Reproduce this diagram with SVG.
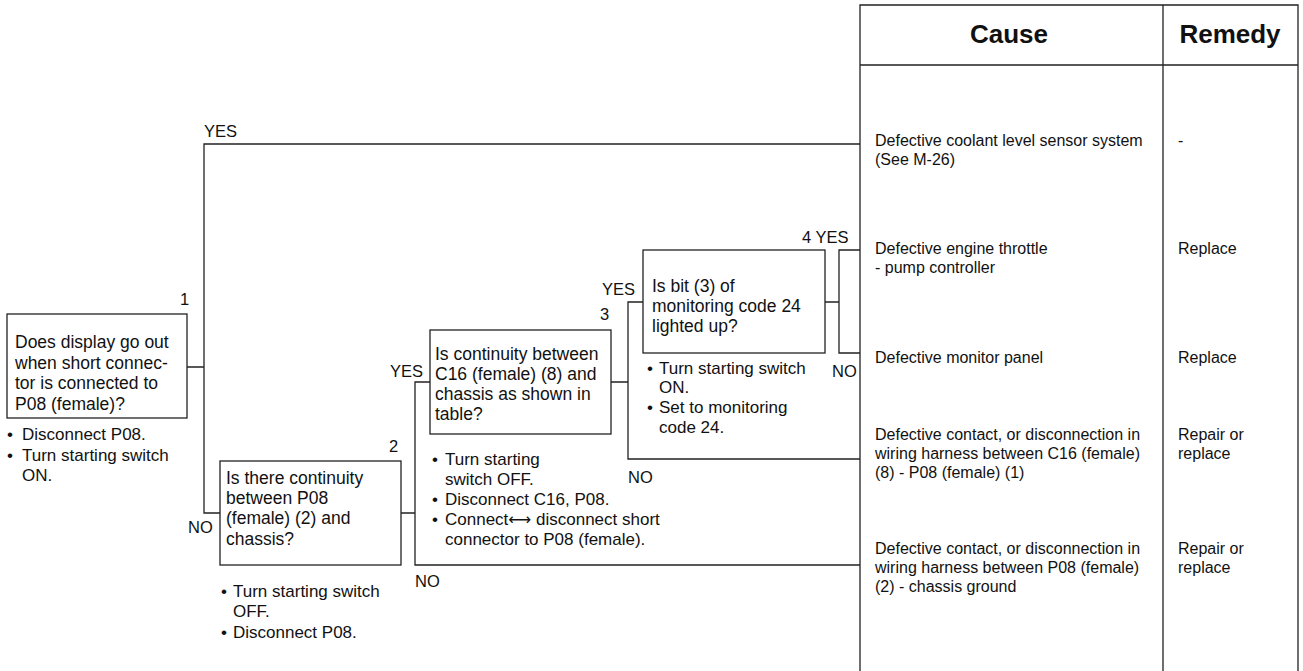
<svg xmlns="http://www.w3.org/2000/svg" width="1303" height="671" viewBox="0 0 1303 671">
<style>
.ln{stroke:#222;stroke-width:1.3;fill:none}
.bx{stroke:#222;stroke-width:1.3;fill:#fff}
text{font-family:"Liberation Sans",Arial,sans-serif;fill:#111}
.q{font-size:17.5px}
.b{font-size:17px}
.lb{font-size:16.5px}
.c{font-size:16px}
.h{font-size:26px;font-weight:bold}
</style>
<rect width="1303" height="671" fill="#fff"/>
<g id="table">
<path class="ln" d="M860 671V5H1298V671M1163 5V671M860 65H1298"/>
<text class="h" x="1009" y="43" text-anchor="middle">Cause</text>
<text class="h" x="1230" y="43" text-anchor="middle">Remedy</text>
</g>
<g id="connectors">
<path class="ln" d="M860 144H204V513H220M187 367H204"/>
<path class="ln" d="M401 513H415M430 382H415V565H860"/>
<path class="ln" d="M611 382H628M643 302H628V459H860"/>
<path class="ln" d="M825 302H839M860 250H839V353H860"/>
<text class="lb" x="204" y="137">YES</text>
<text class="lb" x="188" y="533">NO</text>
<text class="lb" x="390" y="377">YES</text>
<text class="lb" x="415" y="587">NO</text>
<text class="lb" x="602" y="295">YES</text>
<text class="lb" x="628" y="483">NO</text>
<text class="lb" x="802" y="243">4 YES</text>
<text class="lb" x="832" y="377">NO</text>
</g>
<g id="node1">
<rect class="bx" x="7" y="314" width="180" height="104"/>
<text class="lb" x="180" y="305">1</text>
<text class="q" x="15" y="348">Does display go out</text>
<text class="q" x="15" y="369">when short connec-</text>
<text class="q" x="15" y="389">tor is connected to</text>
<text class="q" x="15" y="410">P08 (female)?</text>
<text class="b" x="7" y="440">•</text>
<text class="b" x="22" y="440">Disconnect P08.</text>
<text class="b" x="7" y="461">•</text>
<text class="b" x="22" y="461">Turn starting switch</text>
<text class="b" x="22" y="481">ON.</text>
</g>
<g id="node2">
<rect class="bx" x="220" y="461" width="181" height="104"/>
<text class="lb" x="389" y="452">2</text>
<text class="q" x="226" y="484">Is there continuity</text>
<text class="q" x="226" y="504">between P08</text>
<text class="q" x="226" y="524">(female) (2) and</text>
<text class="q" x="226" y="545">chassis?</text>
<text class="b" x="221" y="597">•</text>
<text class="b" x="233" y="597">Turn starting switch</text>
<text class="b" x="233" y="617">OFF.</text>
<text class="b" x="221" y="638">•</text>
<text class="b" x="233" y="638">Disconnect P08.</text>
</g>
<g id="node3">
<rect class="bx" x="430" y="330" width="181" height="104"/>
<text class="lb" x="600" y="320">3</text>
<text class="q" x="435" y="360">Is continuity between</text>
<text class="q" x="435" y="380">C16 (female) (8) and</text>
<text class="q" x="435" y="400">chassis as shown in</text>
<text class="q" x="435" y="420">table?</text>
<text class="b" x="432" y="465">•</text>
<text class="b" x="445" y="465">Turn starting</text>
<text class="b" x="445" y="485">switch OFF.</text>
<text class="b" x="432" y="505">•</text>
<text class="b" x="445" y="505">Disconnect C16, P08.</text>
<text class="b" x="432" y="525">•</text>
<text class="b" x="445" y="525">Connect<tspan font-family="DejaVu Sans,sans-serif" font-size="16">⟷</tspan> disconnect short</text>
<text class="b" x="445" y="545">connector to P08 (female).</text>
</g>
<g id="node4">
<rect class="bx" x="643" y="250" width="182" height="103"/>
<text class="q" x="652" y="292">Is bit (3) of</text>
<text class="q" x="652" y="312">monitoring code 24</text>
<text class="q" x="652" y="332">lighted up?</text>
<text class="b" x="647" y="374">•</text>
<text class="b" x="659" y="374">Turn starting switch</text>
<text class="b" x="659" y="393">ON.</text>
<text class="b" x="647" y="413">•</text>
<text class="b" x="659" y="413">Set to monitoring</text>
<text class="b" x="659" y="433">code 24.</text>
</g>
<g id="results">
<text class="c" x="875" y="146">Defective coolant level sensor system</text>
<text class="c" x="875" y="165">(See M-26)</text>
<text class="c" x="1178" y="146">-</text>
<text class="c" x="875" y="254">Defective engine throttle</text>
<text class="c" x="875" y="273">- pump controller</text>
<text class="c" x="1178" y="254">Replace</text>
<text class="c" x="875" y="363">Defective monitor panel</text>
<text class="c" x="1178" y="363">Replace</text>
<text class="c" x="875" y="440">Defective contact, or disconnection in</text>
<text class="c" x="875" y="459">wiring harness between C16 (female)</text>
<text class="c" x="875" y="478">(8) - P08 (female) (1)</text>
<text class="c" x="1178" y="440">Repair or</text>
<text class="c" x="1178" y="459">replace</text>
<text class="c" x="875" y="554">Defective contact, or disconnection in</text>
<text class="c" x="875" y="573">wiring harness between P08 (female)</text>
<text class="c" x="875" y="592">(2) - chassis ground</text>
<text class="c" x="1178" y="554">Repair or</text>
<text class="c" x="1178" y="573">replace</text>
</g>
</svg>
